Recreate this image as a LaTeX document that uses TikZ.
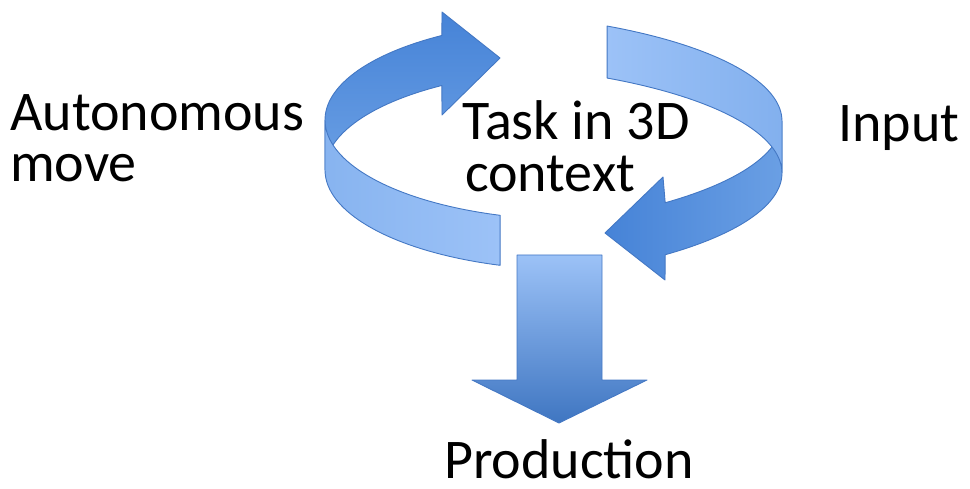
\documentclass[tikz,border=0pt]{standalone}
\usepackage{fontspec}
\setmainfont{Carlito}
\begin{document}
\begin{tikzpicture}[x=1pt,y=-1pt,
  band/.style={draw=bandedge,line width=0.9pt,line join=round},
  label/.style={inner sep=0pt,anchor=base west,font=\fontsize{56}{60}\selectfont,text=black}]
\definecolor{bandedge}{HTML}{4478C4}
\definecolor{deepblue}{HTML}{4683D7}
\definecolor{midblue}{HTML}{6A9FE4}
\definecolor{paleblue}{HTML}{8DB8F2}
\definecolor{lightblue}{HTML}{9CC2F7}
\useasboundingbox (0,0) rectangle (970,489);

% left ring arrow: ellipse centre (576,120), radii 251 x 100, band height 50
% back (inner) part carrying the head
\path[band,top color=deepblue,bottom color=midblue]
  plot[domain=122.3:180,samples=40,variable=\t] ({576+251*cos(\t)},{120-100*sin(\t)})
  -- plot[domain=180:122.3,samples=40,variable=\t] ({576+251*cos(\t)},{170-100*sin(\t)})
  -- (442,115) -- (500,58) -- (442,12) -- cycle;
% front (outer) part
\path[band,left color=paleblue!92!deepblue,right color=lightblue]
  plot[domain=180:252.4,samples=40,variable=\t] ({576+251*cos(\t)},{120-100*sin(\t)})
  -- plot[domain=252.4:180,samples=40,variable=\t] ({576+251*cos(\t)},{170-100*sin(\t)})
  -- cycle;

% right ring arrow: ellipse centre (429,121), radii 353 x 110, band height 52
% front (outer) part carrying the head
\path[band,left color=deepblue,right color=midblue]
  plot[domain=0:-48,samples=40,variable=\t] ({429+353*cos(\t)},{121-110*sin(\t)})
  -- (663,177) -- (605,233) -- (665,280)
  -- plot[domain=-48:0,samples=40,variable=\t] ({429+353*cos(\t)},{173-110*sin(\t)})
  -- cycle;
% back (inner) part
\path[band,left color=lightblue,right color=paleblue!85!deepblue]
  plot[domain=59.7:0,samples=40,variable=\t] ({429+353*cos(\t)},{121-110*sin(\t)})
  -- plot[domain=0:59.7,samples=40,variable=\t] ({429+353*cos(\t)},{173-110*sin(\t)})
  -- cycle;

% downward block arrow
\path[band,top color=lightblue,bottom color=deepblue!90!black]
  (517,255) -- (602,255) -- (602,380) -- (647,380) -- (559,423)
  -- (472,380) -- (517,380) -- cycle;

% labels
\node[label] (auto) at (10,131) {Autonomous};
\node[label] (move) at (10,182) {move};
\node[label] (task) at (462,140) {Task in 3D};
\node[label] (ctx)  at (465,192) {context};
\node[label] (inp)  at (838,142) {Input};
\node[label] (prod) at (444,478) {Production};
\end{tikzpicture}
\end{document}
